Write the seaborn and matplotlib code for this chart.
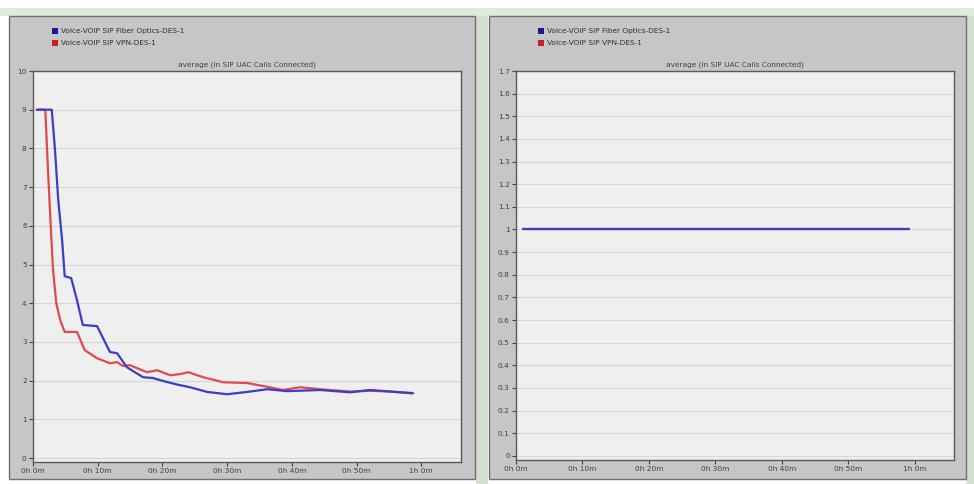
import numpy as np
import pandas as pd
import matplotlib
matplotlib.use("Agg")
import matplotlib.pyplot as plt
from matplotlib.patches import Rectangle
import seaborn as sns

# ---- data (time in minutes, value = average SIP UAC calls connected) ----
fiber_t = [0.6, 2.9, 3.4, 3.9, 4.5, 4.9, 5.9, 6.8, 7.7, 9.9, 11.9, 13.0, 14.5,
           17.0, 18.5, 20.4, 22.3, 24.3, 26.9, 30.0, 33.1, 36.2, 39.3, 44.4,
           49.0, 52.1, 55.2, 58.7]
fiber_v = [9.0, 9.0, 7.96, 6.67, 5.63, 4.7, 4.65, 4.08, 3.44, 3.41, 2.74, 2.71,
           2.35, 2.09, 2.07, 1.98, 1.9, 1.83, 1.71, 1.65, 1.71, 1.78, 1.73, 1.76,
           1.70, 1.76, 1.72, 1.68]

vpn_t = [0.6, 1.9, 2.3, 2.8, 3.1, 3.6, 4.2, 4.9, 6.8, 8.0, 9.9, 11.9, 13.0,
         13.9, 15.0, 17.6, 19.2, 21.2, 22.7, 24.0, 26.3, 29.4, 33.1, 36.6,
         38.6, 41.3, 44.4, 49.0, 52.1, 55.2, 58.7]
vpn_v = [9.0, 9.0, 7.5, 5.8, 4.86, 4.0, 3.57, 3.26, 3.26, 2.79, 2.58, 2.45,
         2.48, 2.38, 2.40, 2.22, 2.27, 2.14, 2.17, 2.22, 2.09, 1.96, 1.94, 1.83,
         1.76, 1.83, 1.78, 1.72, 1.74, 1.72, 1.67]

# second chart: calls connected stay constant
flat_t = [1.0, 59.2]
fiber_flat_v = [1.0, 1.0]
vpn_flat_v = [1.0, 1.0]

series_names = ["Voice-VOIP SIP Fiber Optics-DES-1", "Voice-VOIP SIP VPN-DES-1"]
title = "average (in SIP UAC Calls Connected)"
x_ticks = [0, 10, 20, 30, 40, 50, 60]
x_labels = ["0h 0m", "0h 10m", "0h 20m", "0h 30m", "0h 40m", "0h 50m", "1h 0m"]
left_yticks = list(range(0, 11))
right_yticks = [round(0.1 * i, 1) for i in range(18)]

line_colors = {series_names[0]: "#3c3cc8", series_names[1]: "#e04a4a"}
legend_colors = ["#18189a", "#c81e1e"]

sns.set_theme(style="white")
plt.rcParams["font.family"] = ["DejaVu Sans"]

W, H = 974, 484
fig = plt.figure(figsize=(W / 100, H / 100), dpi=100)
fig.patch.set_facecolor("white")


def px(x0, y0, x1, y1):
    """figure-fraction rectangle from pixel box (top-left origin)"""
    return [x0 / W, 1 - y1 / H, (x1 - x0) / W, (y1 - y0) / H]


# window frames behind the two charts
fig.patches.append(Rectangle((0, 1 - 16 / H), 1, 8 / H, transform=fig.transFigure,
                             facecolor="#dfe9dc", edgecolor="none", zorder=0))
fig.patches.append(Rectangle((476 / W, 0), 12 / W, 1 - 16 / H, transform=fig.transFigure,
                             facecolor="#d3e0d0", edgecolor="none", zorder=0))
fig.patches.append(Rectangle((966 / W, 0), 8 / W, 1 - 16 / H, transform=fig.transFigure,
                             facecolor="#d3e0d0", edgecolor="none", zorder=0))
for x0, x1 in [(9, 475), (489, 966)]:
    b = px(x0, 16, x1, 479)
    fig.patches.append(Rectangle((b[0], b[1]), b[2], b[3], transform=fig.transFigure,
                                 facecolor="#c6c6c6", edgecolor="#707070", lw=1.0, zorder=1))


def style_axes(ax, yticks, ylabels, xlim, ylim):
    ax.set_facecolor("#efefef")
    ax.set_xlim(*xlim)
    ax.set_ylim(*ylim)
    ax.set_yticks(yticks)
    ax.set_yticklabels(ylabels)
    ax.set_xticks(x_ticks)
    ax.set_xticklabels(x_labels)
    ax.grid(axis="y", color="#d6d6d6", lw=0.8)
    ax.grid(axis="x", visible=False)
    ax.set_axisbelow(True)
    for s in ax.spines.values():
        s.set_color("#5a5a5a")
        s.set_linewidth(1.0)
    ax.tick_params(axis="both", which="major", direction="out", length=3,
                   width=0.8, color="#404040", labelsize=5.3, labelcolor="#404040",
                   pad=1.5, left=True, bottom=True)
    ax.set_xlabel("")
    ax.set_ylabel("")
    ax.set_title(title, fontsize=5.3, color="#404040", pad=3)
    leg = ax.get_legend()
    if leg is not None:
        leg.remove()


def draw_legend(x_sq, y_rows):
    for (name, col, yr) in zip(series_names, legend_colors, y_rows):
        b = px(x_sq, yr - 3, x_sq + 6, yr + 3)
        fig.patches.append(Rectangle((b[0], b[1]), b[2], b[3], transform=fig.transFigure,
                                     facecolor=col, edgecolor="none", zorder=3))
        fig.text((x_sq + 9) / W, 1 - yr / H, name, fontsize=5.3, color="#303030",
                 va="center", ha="left", zorder=3)


# ---- left chart ----
left_df = pd.concat([
    pd.DataFrame({"t": fiber_t, "v": fiber_v, "series": series_names[0]}),
    pd.DataFrame({"t": vpn_t, "v": vpn_v, "series": series_names[1]}),
])
ax1 = fig.add_axes(px(33, 71, 461, 462))
ax1.set_zorder(2)
sns.lineplot(data=left_df, x="t", y="v", hue="series", palette=line_colors,
             hue_order=[series_names[1], series_names[0]], lw=1.6, ax=ax1,
             estimator=None, sort=False)
style_axes(ax1, left_yticks, [str(v) for v in left_yticks], (0, 66.15), (-0.1, 10))
draw_legend(52, [31, 43])

# ---- right chart ----
right_df = pd.concat([
    pd.DataFrame({"t": flat_t, "v": vpn_flat_v, "series": series_names[1]}),
    pd.DataFrame({"t": flat_t, "v": fiber_flat_v, "series": series_names[0]}),
])
ax2 = fig.add_axes(px(516, 71, 954, 460))
ax2.set_zorder(2)
sns.lineplot(data=right_df, x="t", y="v", hue="series", palette=line_colors,
             hue_order=[series_names[1], series_names[0]], lw=1.6, ax=ax2,
             estimator=None, sort=False)
style_axes(ax2, right_yticks, [("%g" % v) for v in right_yticks], (0, 65.9), (-0.018, 1.7))
draw_legend(538, [31, 43])

fig.savefig("out.png", dpi=100, facecolor=fig.get_facecolor())
